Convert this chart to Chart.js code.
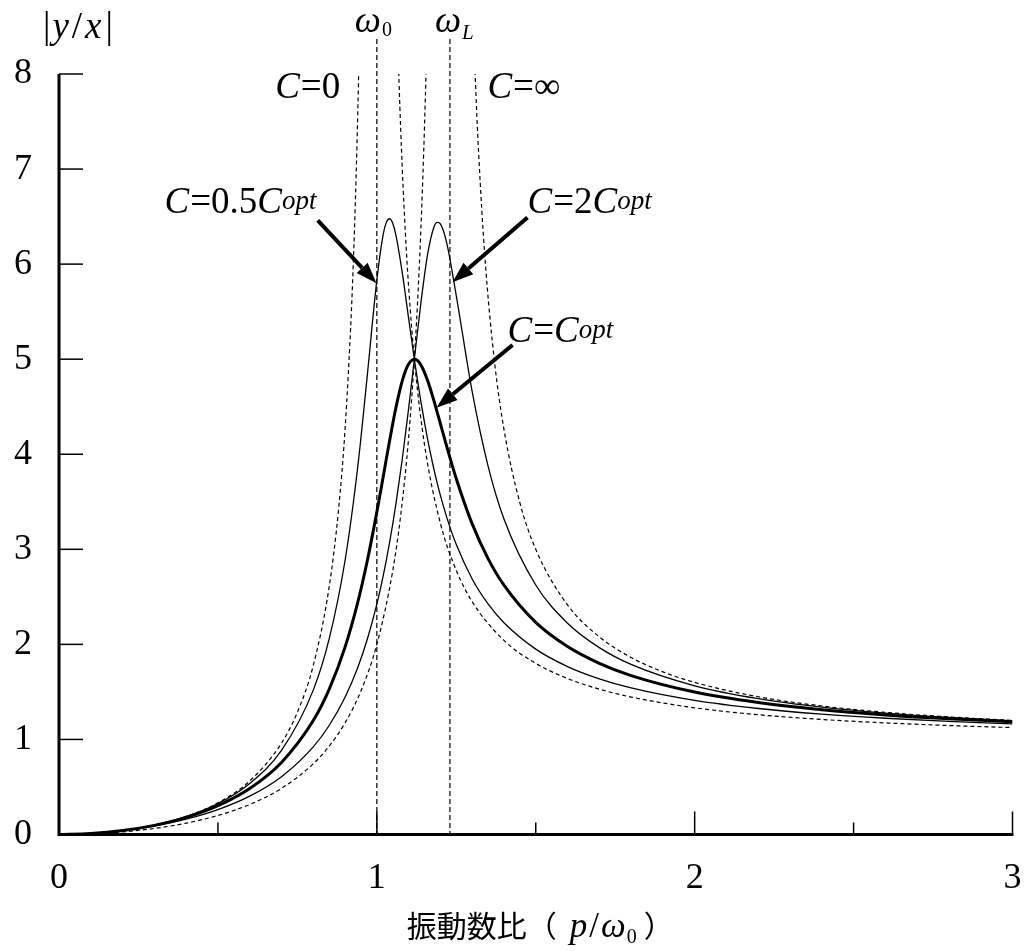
<!DOCTYPE html>
<html><head><meta charset="utf-8">
<script src="https://cdn.jsdelivr.net/npm/chart.js@4"></script>
<style>html,body{margin:0;padding:0;background:#fff;}#wrap{width:1027px;height:951px;position:relative;}</style>
</head><body><div id="wrap"><canvas id="c"></canvas></div>
<script>
// ---- data ----
const xTickLabels = [0, 1, 2, 3];
const xTickMarks = [0.5, 1, 1.5, 2, 2.5, 3];
const yTickLabels = [0, 1, 2, 3, 4, 5, 6, 7, 8];
const omega0 = 1.0;
const omegaL = 1.23;

// C = 0 (dashed)
const xC0 = [0,0.1,0.2,0.3,0.4,0.5,0.6,0.7,0.75,0.8,0.85,0.88,0.9,0.92,0.93,0.94,0.95,0.96,1.0,1.04,1.05,1.06,1.07,1.08,1.09,1.1,1.12,1.15,1.2,1.25,1.3,1.4,1.5,1.6,1.7,1.8,2.0,2.2,2.4,2.6,2.8,3.0];
const yC0 = [0,0.010,0.042,0.099,0.190,0.333,0.563,0.961,1.286,1.778,2.604,3.433,4.263,5.510,6.402,7.591,9.256,11.755,null,13.25,10.756,9.091,7.901,7.010,6.316,5.762,4.931,4.101,3.273,2.778,2.449,2.042,1.800,1.641,1.529,1.446,1.333,1.260,1.210,1.174,1.146,1.125];

// C = infinity (dashed)
const xCinf = [0,0.1,0.2,0.3,0.4,0.5,0.6,0.7,0.8,0.85,0.9,0.95,1.0,1.05,1.075,1.1,1.12,1.13,1.14,1.15,1.16,1.17,1.18,1.22,1.27,1.28,1.29,1.3,1.31,1.32,1.34,1.37,1.4,1.45,1.5,1.6,1.7,1.8,1.9,2.0,2.2,2.4,2.6,2.8,3.0];
const yCinf = [0,0.0067,0.0274,0.0638,0.1194,0.2,0.3158,0.4851,0.7442,0.9293,1.1739,1.5105,2.0,2.7736,3.356,4.1724,5.1075,5.723,6.485,7.451,8.715,10.44,12.94,null,14.29,11.838,10.141,8.895,7.941,7.188,6.074,4.980,4.261,3.490,3.0,2.415,2.079,1.862,1.711,1.6,1.449,1.352,1.285,1.237,1.2];

// damped curves
const xDamped = [0,0.1,0.2,0.3,0.4,0.5,0.6,0.7,0.8,0.85,0.9,0.94,0.97,1.0,1.02,1.03,1.04,1.05,1.06,1.08,1.1,1.12,1.14,1.16,1.18,1.19,1.2,1.22,1.25,1.3,1.35,1.4,1.5,1.6,1.7,1.8,2.0,2.2,2.4,2.6,2.8,3.0];
const yHalfOpt = [0,0.0101,0.0415,0.0981,0.1875,0.3242,0.5364,0.8848,1.5188,2.0571,2.8821,3.8687,4.8301,5.831,6.3123,6.4394,6.4773,6.4289,6.3062,5.9107,5.4299,4.955,4.5263,4.1546,3.8371,3.6965,3.5667,3.3361,3.0495,2.6884,2.4255,2.2271,1.9497,1.7665,1.6372,1.5416,1.4104,1.3253,1.2661,1.2227,1.1898,1.1641];
const yOpt = [0,0.0101,0.0411,0.0959,0.1799,0.3031,0.4841,0.7583,1.1992,1.5275,1.9713,2.4422,2.8795,3.3912,3.7633,3.9527,4.1398,4.3202,4.4894,4.7717,4.9485,4.9994,4.9313,4.7725,4.5587,4.4411,4.3208,4.0807,3.742,3.2675,2.9023,2.6222,2.2311,1.9766,1.8001,1.6715,1.4983,1.3881,1.3126,1.2583,1.2175,1.186];
const yTwoOpt = [0,0.0100,0.0397,0.0893,0.1614,0.2620,0.4035,0.6085,0.9221,1.1468,1.4436,1.7569,2.0541,2.4238,2.7216,2.8889,3.0698,3.2653,3.4763,3.9472,4.4805,5.0575,5.6287,6.1077,6.3928,6.4401,6.4231,6.2216,5.6667,4.6579,3.8757,3.3195,2.6246,2.2229,1.9659,1.7892,1.5643,1.4289,1.3396,1.2770,1.2309,1.1959];

// ---- drawing ----
const SERIF = '"Liberation Serif", "Times New Roman", serif';
const CJK = '"Noto Sans CJK JP", sans-serif';
const F = (s, it) => (it ? 'italic ' : '') + s + 'px ' + SERIF;

function pts(xs, ys) { return xs.map((x, i) => ({ x: x, y: ys[i] })); }

// draw a row of text runs; r.gap adds space after a run
function runs(ctx, x, y, list) {
  let cx = x;
  list.forEach(r => {
    ctx.font = r.f;
    ctx.fillText(r.t, cx, y + (r.dy || 0));
    cx += ctx.measureText(r.t).width + (r.gap || 0);
  });
}

function arrow(ctx, x1, y1, x2, y2) {
  const ang = Math.atan2(y2 - y1, x2 - x1);
  const hl = 21, hw = 7.5;
  const bx = x2 - hl * Math.cos(ang), by = y2 - hl * Math.sin(ang);
  ctx.lineWidth = 4;
  ctx.beginPath(); ctx.moveTo(x1, y1); ctx.lineTo(bx, by); ctx.stroke();
  ctx.beginPath();
  ctx.moveTo(x2, y2);
  ctx.lineTo(bx + hw * Math.sin(ang), by - hw * Math.cos(ang));
  ctx.lineTo(bx - hw * Math.sin(ang), by + hw * Math.cos(ang));
  ctx.closePath(); ctx.fill();
}

function cLabel(opt, mid) {
  const r = [{ t: 'C', f: F(37, true), gap: 1 }, { t: '=' + mid, f: F(37) }];
  if (opt) { r.push({ t: 'C', f: F(37, true) }); r.push({ t: 'opt', f: F(27, true), dy: -4, gap: 0 }); }
  return r;
}

const deco = {
  id: 'deco',
  afterDraw(chart) {
    const ctx = chart.ctx, a = chart.chartArea;
    const sx = chart.scales.x, sy = chart.scales.y;
    const X = v => sx.getPixelForValue(v), Y = v => sy.getPixelForValue(v);
    ctx.save();
    ctx.fillStyle = '#000'; ctx.strokeStyle = '#000';
    ctx.textBaseline = 'alphabetic'; ctx.textAlign = 'left';

    // vertical reference lines
    ctx.lineWidth = 1.2; ctx.setLineDash([5, 3]);
    [omega0, omegaL].forEach(v => {
      ctx.beginPath(); ctx.moveTo(X(v), a.top - 35); ctx.lineTo(X(v), a.bottom); ctx.stroke();
    });
    ctx.setLineDash([]);

    // axes
    ctx.lineWidth = 3;
    ctx.beginPath(); ctx.moveTo(a.left, a.top); ctx.lineTo(a.left, a.bottom); ctx.lineTo(a.right + 1, a.bottom); ctx.stroke();
    ctx.lineWidth = 1.5;
    yTickLabels.forEach(v => { ctx.beginPath(); ctx.moveTo(a.left, Y(v)); ctx.lineTo(a.left + 24, Y(v)); ctx.stroke(); });
    xTickMarks.forEach(v => {
      const len = Number.isInteger(v) ? 23 : 12;
      ctx.beginPath(); ctx.moveTo(X(v), a.bottom); ctx.lineTo(X(v), a.bottom - len); ctx.stroke();
    });

    // y-axis title |y/x|
    runs(ctx, a.left - 16, 38, [
      { t: '|', f: F(37), gap: 2 }, { t: 'y', f: F(37, true), gap: 3 }, { t: '/', f: F(37), gap: 3 },
      { t: 'x', f: F(37, true), gap: 4 }, { t: '|', f: F(37) }
    ]);

    // omega labels
    runs(ctx, X(omega0) - 22, 32, [{ t: '\u03c9', f: F(37, true), gap: 1 }, { t: '0', f: F(20), dy: 4 }]);
    runs(ctx, X(omegaL) - 15, 32, [{ t: '\u03c9', f: F(37, true), gap: 1 }, { t: 'L', f: F(21, true), dy: 7 }]);

    // curve labels
    runs(ctx, X(0.68), Y(7.75), cLabel(false, '0'));
    runs(ctx, X(1.348), Y(7.75), cLabel(false, '\u221e'));
    runs(ctx, X(0.332), Y(6.54), cLabel(true, '0.5'));
    runs(ctx, X(1.474), Y(6.54), cLabel(true, '2'));
    runs(ctx, X(1.411), Y(5.18), cLabel(true, ''));

    // arrows
    arrow(ctx, X(0.814), Y(6.46), X(0.999), Y(5.80));
    arrow(ctx, X(1.474), Y(6.49), X(1.238), Y(5.81));
    arrow(ctx, X(1.427), Y(5.15), X(1.188), Y(4.49));

    // x-axis title
    const cx = (a.left + a.right) / 2;
    runs(ctx, cx - 129, 937, [
      { t: '\u632f\u52d5\u6570\u6bd4\uff08', f: '30px ' + CJK, gap: 13 },
      { t: 'p', f: F(35, true), gap: 2 }, { t: '/', f: F(35), gap: 2 }, { t: '\u03c9', f: F(35, true), gap: 1 },
      { t: '0', f: F(20), dy: 6, gap: 7 },
      { t: '\uff09', f: '30px ' + CJK }
    ]);
    ctx.restore();
  }
};

const thin = 1.3, dashW = 1.2;
new Chart(document.getElementById('c'), {
  type: 'line',
  data: {
    datasets: [
      { label: 'C=0', data: pts(xC0, yC0), borderColor: '#000', borderWidth: dashW, borderDash: [4, 3], cubicInterpolationMode: 'monotone' },
      { label: 'C=\u221e', data: pts(xCinf, yCinf), borderColor: '#000', borderWidth: dashW, borderDash: [4, 3], cubicInterpolationMode: 'monotone' },
      { label: 'C=0.5Copt', data: pts(xDamped, yHalfOpt), borderColor: '#000', borderWidth: thin, cubicInterpolationMode: 'monotone' },
      { label: 'C=2Copt', data: pts(xDamped, yTwoOpt), borderColor: '#000', borderWidth: thin, cubicInterpolationMode: 'monotone' },
      { label: 'C=Copt', data: pts(xDamped, yOpt), borderColor: '#000', borderWidth: 3, cubicInterpolationMode: 'monotone' }
    ]
  },
  options: {
    responsive: true, maintainAspectRatio: false, animation: false, devicePixelRatio: 1,
    spanGaps: false,
    elements: { point: { radius: 0 } },
    layout: { padding: { left: 0, right: 14.5, top: 74, bottom: 0 } },
    plugins: { legend: { display: false }, tooltip: { enabled: false } },
    scales: {
      x: {
        type: 'linear', min: 0, max: 3,
        grid: { display: false, drawTicks: false }, border: { display: false },
        ticks: { stepSize: 1, color: '#000', font: { family: SERIF, size: 36 }, padding: 22, maxRotation: 0, autoSkip: false,
                 callback: v => xTickLabels.includes(v) ? String(v) : '' },
        afterFit: s => { s.height = 116.5; s.paddingLeft = 0; s.paddingRight = 0; }
      },
      y: {
        min: 0, max: 8,
        grid: { display: false, drawTicks: false }, border: { display: false },
        ticks: { stepSize: 1, color: '#000', font: { family: SERIF, size: 36 }, padding: 27,
                 callback: v => yTickLabels.includes(v) ? String(v) : '' },
        afterFit: s => { s.width = 59; s.paddingTop = 0; s.paddingBottom = 0; }
      }
    }
  },
  plugins: [deco]
});
</script>
</body></html>
